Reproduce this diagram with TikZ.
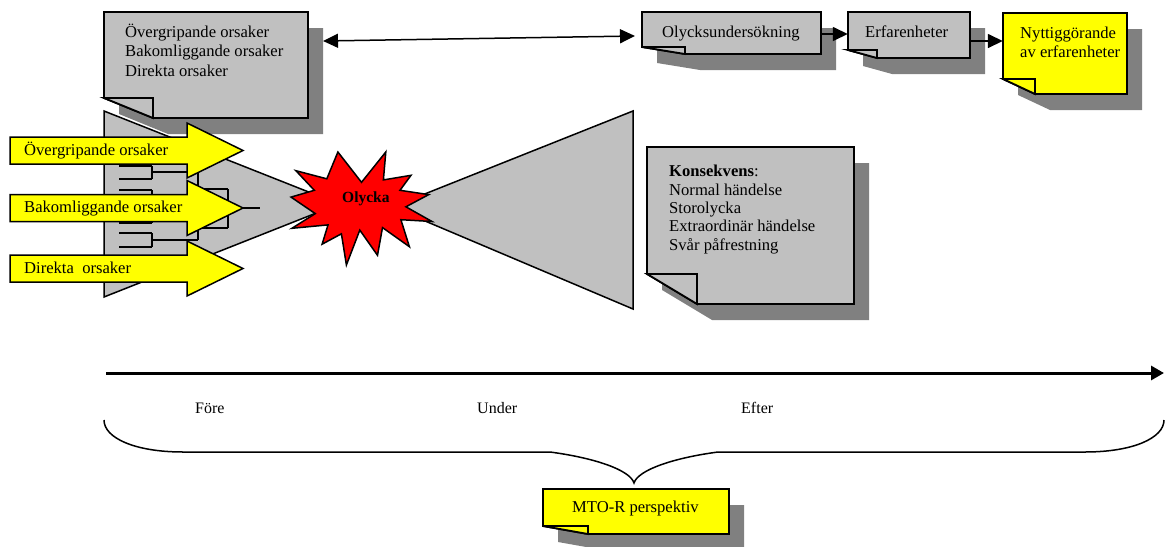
\documentclass[tikz,border=0pt]{standalone}
\usepackage{fontspec}
\setmainfont{Liberation Serif}
\usetikzlibrary{arrows.meta,fit}

\definecolor{notegray}{HTML}{C0C0C0}
\definecolor{shadegray}{HTML}{808080}
\definecolor{noteyellow}{HTML}{FFFF00}
\definecolor{blastred}{HTML}{FF0000}

\tikzset{
  noteline/.style={line width=1.8pt, draw=black, line join=miter},
  thinline/.style={line width=1.5pt, draw=black},
  treeline/.style={line width=1.4pt, draw=black},
  txt/.style={font=\fontsize{16.6}{19}\selectfont, inner sep=0pt, anchor=base west},
  smalltxt/.style={font=\fontsize{16}{18}\selectfont, inner sep=0pt, anchor=base west},
  link/.style={line width=1.5pt, draw=black},
  tip/.style={-{Triangle[length=15pt,width=14pt]}},
}

% folded-corner note: name, left, top, right, bottom, fold x, fold y, fill
\newcommand\notebox[8]{%
  \fill[shadegray] ({#2+15},{#3+16}) -- ({#4+15},{#3+16}) -- ({#4+15},{#5+16})
    -- ({#6+15},{#5+16}) -- ({#2+15},{#7+16}) -- cycle;
  \draw[noteline, fill=#8] (#2,#3) -- (#4,#3) -- (#4,#5) -- (#6,#5) -- (#2,#7) -- cycle;
  \draw[noteline, fill=#8] (#2,#7) -- (#6,#7) -- (#6,#5) -- cycle;
  \coordinate (#1-nw) at (#2,#3);
  \coordinate (#1-se) at (#4,#5);
  \node[fit=(#1-nw)(#1-se), inner sep=0pt] (#1) {};
}

% block arrow pointing right: name, centre y, text
\newcommand\causearrow[3]{%
  \draw[thinline, fill=noteyellow, line join=miter] (10,{#2-13.5}) -- (187,{#2-13.5}) -- (187,{#2-27.5})
    -- (243,#2) -- (187,{#2+27.5}) -- (187,{#2+13.5}) -- (10,{#2+13.5}) -- cycle;
  \node[txt] (#1) at (24,{#2+4.5}) {#3};
}

\begin{document}
\begin{tikzpicture}[x=1pt,y=-1pt]
\useasboundingbox (0,0) rectangle (1169,546);

% causes summary note (top left)
\notebox{causes}{104}{12}{308}{118}{153}{98}{notegray}
\node[txt] (c1) at (125,37.7) {Övergripande orsaker};
\node[txt] (c2) at (125,56.9) {Bakomliggande orsaker};
\node[txt] (c3) at (125,76.1) {Direkta orsaker};

% bow-tie: converging and diverging wedges
\draw[thinline, fill=notegray, line join=miter] (104,111) -- (339,204) -- (104,297) -- cycle;
\draw[thinline, fill=notegray, line join=miter] (633,111) -- (392,207) -- (633,309) -- cycle;

% cause tree
\foreach \y in {166,179,190,203,210,223,233,247}
  \draw[treeline] (119,\y) -- (152,\y);
\draw[treeline] (152,166) -- (152,179);
\draw[treeline] (152,190) -- (152,203);
\draw[treeline] (152,210) -- (152,223);
\draw[treeline] (152,233) -- (152,247);
\foreach \y in {172,196,216,240}
  \draw[treeline] (152,\y) -- (198,\y);
\draw[treeline] (198,172) -- (198,196);
\draw[treeline] (198,216) -- (198,240);
\draw[treeline] (198,189) -- (228,189);
\draw[treeline] (198,228) -- (228,228);
\draw[treeline] (228,189) -- (228,228);
\draw[treeline] (228,208) -- (260,208);

% cause arrows
\causearrow{a1}{150.5}{Övergripande orsaker}
\causearrow{a2}{208}{Bakomliggande orsaker}
\causearrow{a3}{268.5}{Direkta\ \ orsaker}

% accident burst
\draw[thinline, fill=blastred, line join=miter]
  (361.5,182.3) -- (385.8,152) -- (383.4,179.9) -- (411.0,175.3) -- (400.0,190.3)
  -- (428.7,194.6) -- (405.9,206.8) -- (432,221.5) -- (400.9,219.7) -- (409.4,246.7)
  -- (382.5,227.6) -- (377.5,255.3) -- (359.8,230.1) -- (346.4,265) -- (341.4,233.8)
  -- (322.1,244.2) -- (328.0,224.9) -- (291.9,228.3) -- (315.3,213.6) -- (291,197.1)
  -- (314.3,190.3) -- (295.9,170.7) -- (326.8,178.8) -- (337.9,152) -- cycle;
\node[font=\fontsize{15.5}{18}\selectfont\bfseries, inner sep=0pt, anchor=base west] (olycka) at (342,202) {Olycka};

% consequence note
\notebox{kons}{647}{147}{854}{304}{697}{274}{notegray}
\node[txt] (k1) at (669,176.7) {\textbf{Konsekvens}:};
\node[txt] (k2) at (669,195.1) {Normal händelse};
\node[txt] (k3) at (669,213.5) {Storolycka};
\node[txt] (k4) at (669,231.9) {Extraordinär händelse};
\node[txt] (k5) at (669,250.3) {Svår påfrestning};

% learning chain (top right)
\notebox{olu}{642}{12}{821}{54}{685}{47}{notegray}
\node[txt] (olutxt) at (662,37.3) {Olycksundersökning};
\notebox{erf}{848}{12}{970}{58}{877}{50}{notegray}
\node[txt] (erftxt) at (865,37.3) {Erfarenheter};
\notebox{nyt}{1003}{13}{1127}{94}{1035}{79}{noteyellow}
\node[txt] (nyt1) at (1020,38.3) {Nyttiggörande};
\node[txt] (nyt2) at (1020,57.5) {av erfarenheter};

\coordinate (dl) at (323,41);
\coordinate (dr) at (635,36);
\draw[link, {Triangle[length=15pt,width=14pt]}-{Triangle[length=15pt,width=14pt]}] (dl) -- (dr);
\draw[link, tip] (olu.east |- 0,34) -- (erf.west |- 0,34);
\draw[link, tip] (erf.east |- 0,41) -- (nyt.west |- 0,41);

% time axis
\coordinate (t0) at (106,373);
\coordinate (t1) at (1164,373);
\draw[line width=3pt, -{Triangle[length=13pt,width=14pt]}] (t0) -- (t1);
\node[smalltxt] (fore) at (195,413) {Före};
\node[smalltxt] (under) at (477,413) {Under};
\node[smalltxt] (efter) at (741,413) {Efter};

% brace spanning the whole time axis
\draw[line width=1.5pt]
  (104,420) .. controls (104,438) and (135,452) .. (183,452) -- (550,452)
  .. controls (595,458) and (630,470) .. (634,483)
  .. controls (638,470) and (673,458) .. (718,452) -- (1085,452)
  .. controls (1133,452) and (1164,438) .. (1164,420);

% perspective note
\notebox{mto}{543}{489}{729}{534}{588}{526}{noteyellow}
\node[txt] (mtotxt) at (572,512) {MTO-R perspektiv};

\end{tikzpicture}
\end{document}
